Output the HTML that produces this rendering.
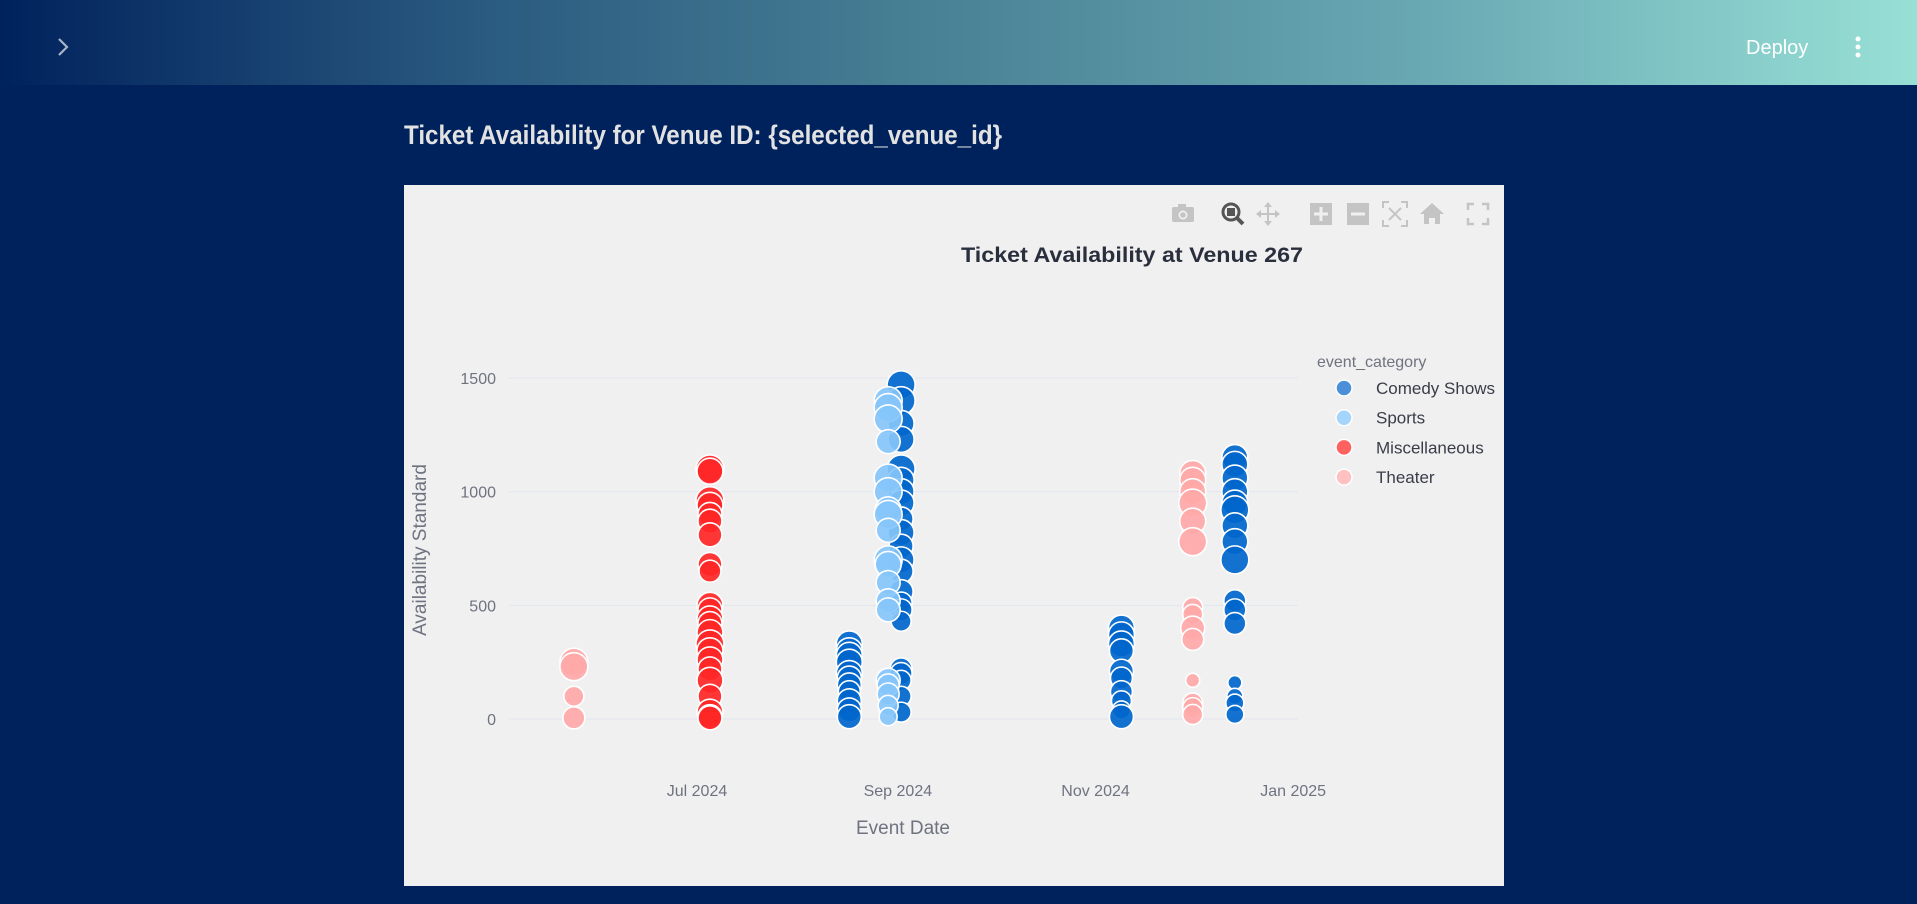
<!DOCTYPE html>
<html><head><meta charset="utf-8">
<style>
html,body{margin:0;padding:0;width:1917px;height:904px;overflow:hidden;background:#00225c;font-family:"Liberation Sans",sans-serif;}
#hdr{position:absolute;left:0;top:0;width:1917px;height:85px;background:linear-gradient(90deg,#00225c 0%,#2a5a80 25%,#4a8396 50%,#6aaab4 75%,#98e0d6 100%);}
#panel{position:absolute;left:404px;top:185px;width:1100px;height:701px;background:#f0f0f1;}
</style></head><body>
<div id="hdr">
  <svg width="1917" height="85" style="position:absolute;left:0;top:0">
    <polyline points="59,39 67,47 59,55" fill="none" stroke="#a8b4c8" stroke-width="2.2"/>
    <text x="1746" y="54" fill="#ffffff" font-size="20" font-family="Liberation Sans, sans-serif">Deploy</text>
    <g fill="#ffffff"><circle cx="1858" cy="39" r="2.5"/><circle cx="1858" cy="47" r="2.5"/><circle cx="1858" cy="55" r="2.5"/></g>
  </svg>
</div>
<svg width="1917" height="180" style="position:absolute;left:0;top:0">
  <text x="404" y="144" fill="#e2e2e2" font-size="27" font-weight="bold" font-family="Liberation Sans Narrow, Liberation Sans, sans-serif" textLength="598" lengthAdjust="spacingAndGlyphs">Ticket Availability for Venue ID: {selected_venue_id}</text>
</svg>
<div id="panel"></div>
<svg id="chart" width="1917" height="904" style="position:absolute;left:0;top:0"></svg>
<script>
const categories=["Comedy Shows","Sports","Miscellaneous","Theater"];
const colors={"Comedy Shows":"#0066cc","Sports":"#85c5fa","Miscellaneous":"#ff2626","Theater":"#ffa8a8"};
const legendColors={"Comedy Shows":"#4a90d9","Sports":"#a6d5fb","Miscellaneous":"#ff6060","Theater":"#ffc0c0"};
const yTicks=[0,500,1000,1500];
const xTickLabels=["Jul 2024","Sep 2024","Nov 2024","Jan 2025"];
const xTickDates=["2024-07-01","2024-09-01","2024-11-01","2025-01-01"];
const theater1Values=[250,230,100,5];
const theater1Sizes=[14,14,10,11];
const miscValues=[1100,1090,960,940,900,870,810,680,650,500,480,440,420,380,330,300,260,220,170,100,30,10,5];
const miscSizes=[14,13,14,13,12,12,12,12,11,13,12,13,12,13,14,13,13,12,13,12,13,12,12];
const comedy1Values=[330,300,280,250,200,180,150,120,80,40,10];
const comedy1Sizes=[13,13,13,13,13,12,12,11,12,12,12];
const sportsValues=[1400,1370,1320,1220,1060,1000,920,900,830,700,680,600,520,480,170,150,110,60,10];
const sportsSizes=[14,14,14,12,14,14,13,14,12,14,13,12,12,12,12,11,11,10,9];
const comedy2Values=[1470,1400,1300,1230,1100,1050,1000,950,880,820,760,700,650,560,510,480,430,220,200,170,100,30];
const comedy2Sizes=[14,14,13,13,14,13,13,13,12,13,12,13,12,12,11,11,10,11,11,10,10,10];
const comedy3Values=[400,370,330,300,210,180,120,80,40,10];
const comedy3Sizes=[13,13,13,12,12,11,11,10,9,12];
const theater2Values=[1080,1050,1000,950,870,780,490,460,400,350,170,70,50,20];
const theater2Sizes=[13,13,13,14,13,14,10,10,12,11,7,10,10,10];
const comedy4Values=[1150,1120,1060,1000,950,920,850,780,700,520,480,420,160,100,70,20];
const comedy4Sizes=[13,13,13,13,13,14,13,13,14,11,11,11,7,8,9,9];
const clusters=[
 ["Comedy Shows","2024-08-17",comedy1Values,comedy1Sizes],
 ["Comedy Shows","2024-09-02",comedy2Values,comedy2Sizes],
 ["Comedy Shows","2024-11-09",comedy3Values,comedy3Sizes],
 ["Comedy Shows","2024-12-14",comedy4Values,comedy4Sizes],
 ["Sports","2024-08-29",sportsValues,sportsSizes],
 ["Miscellaneous","2024-07-05",miscValues,miscSizes],
 ["Theater","2024-05-24",theater1Values,theater1Sizes],
 ["Theater","2024-12-01",theater2Values,theater2Sizes]
];
const NS="http://www.w3.org/2000/svg";
const svg=document.getElementById('chart');
const x0=Date.parse("2024-07-01"),px0=697,pxPerDay=3.24;
function xs(d){return px0+(Date.parse(d)-x0)/86400000*pxPerDay;}
function ys(v){return 719-v*(341/1500);}
function mk(tag,attrs,parent){const e=document.createElementNS(NS,tag);for(const k in attrs)e.setAttribute(k,attrs[k]);(parent||svg).appendChild(e);return e;}
function txt(s,attrs,parent){const e=mk('text',attrs,parent);e.textContent=s;return e;}
yTicks.forEach(v=>{
 const l=mk('line',{x1:509,x2:1298,y1:ys(v),y2:ys(v),stroke:'#e2e6ee','stroke-width':1});
 
 
 const t=txt(String(v),{x:496,y:ys(v)+6,'text-anchor':'end','font-size':16,fill:'#6f7380'});
 
 
});
xTickLabels.forEach((s,i)=>{
 const t=txt(s,{x:xs(xTickDates[i]),y:796,'text-anchor':'middle','font-size':16,fill:'#6f7380'});
 
 
});
const pg=mk('g',{});


clusters.forEach(c=>{
 const [cat,d,vals,sz]=c;
 vals.forEach((v,i)=>{
  const p=mk('circle',{cx:xs(d),cy:ys(v),r:sz[i],fill:colors[cat],'fill-opacity':0.92,stroke:'#ffffff','stroke-width':1.6},pg);
  
  
 });
});
let t=txt('Ticket Availability at Venue 267',{x:1132,y:262,'text-anchor':'middle','font-size':21,'font-weight':'bold',fill:'#2a2f3d',textLength:342,lengthAdjust:'spacingAndGlyphs'});

t=txt('Availability Standard',{x:0,y:0,transform:'translate(426,550) rotate(-90)','text-anchor':'middle','font-size':19,fill:'#6f7380'});

t=txt('Event Date',{x:903,y:834,'text-anchor':'middle','font-size':19,fill:'#6f7380'});

t=txt('event_category',{x:1317,y:367,'font-size':16,fill:'#6f7380'});

categories.forEach((c,i)=>{
 const g=mk('g',{});
 
 
 const y=388+i*29.7;
 mk('circle',{cx:1344,cy:y,r:8,fill:legendColors[c],stroke:'#ffffff','stroke-width':1.5},g);
 txt(c,{x:1376,y:y+6,'font-size':17,fill:'#3a3d48'},g);
});
const mb=mk('g',{fill:'#c4c4c4'});


function icon(name,x,draw){const g=mk('g',{transform:'translate('+x+',214)'},mb);draw(g);}
icon('camera-button',1183,g=>{mk('rect',{x:-11,y:-7,width:22,height:15,rx:2},g);mk('rect',{x:-5,y:-10,width:8,height:4},g);mk('circle',{cx:0,cy:1,r:4.5,fill:'#f0f0f1'},g);mk('circle',{cx:0,cy:1,r:2.8},g);});
icon('zoom-button',1233,g=>{mk('circle',{cx:-2,cy:-2,r:8,fill:'none',stroke:'#555',"stroke-width":3},g);mk('rect',{x:-6,y:-6,width:8,height:8,fill:'#555'},g);mk('line',{x1:4,y1:4,x2:10,y2:10,stroke:'#555','stroke-width':4},g);});
icon('pan-button',1268,g=>{mk('path',{d:'M0,-12 L4,-7 L1,-7 L1,-1 L7,-1 L7,-4 L12,0 L7,4 L7,1 L1,1 L1,7 L4,7 L0,12 L-4,7 L-1,7 L-1,1 L-7,1 L-7,4 L-12,0 L-7,-4 L-7,-1 L-1,-1 L-1,-7 L-4,-7Z'},g);});
icon('zoom-in-button',1321,g=>{mk('rect',{x:-11,y:-11,width:22,height:22},g);mk('rect',{x:-7,y:-1.5,width:14,height:3,fill:'#f0f0f1'},g);mk('rect',{x:-1.5,y:-7,width:3,height:14,fill:'#f0f0f1'},g);});
icon('zoom-out-button',1358,g=>{mk('rect',{x:-11,y:-11,width:22,height:22},g);mk('rect',{x:-7,y:-1.5,width:14,height:3,fill:'#f0f0f1'},g);});
icon('autoscale-button',1395,g=>{mk('path',{d:'M-12,-6 V-12 H-6 M6,-12 H12 V-6 M12,6 V12 H6 M-6,12 H-12 V6 M-6,-6 L6,6 M6,-6 L-6,6',fill:'none',stroke:'#c4c4c4','stroke-width':2},g);});
icon('reset-axes-button',1432,g=>{mk('path',{d:'M0,-11 L12,0 L8,0 L8,10 L3,10 L3,4 L-3,4 L-3,10 L-8,10 L-8,0 L-12,0Z'},g);});
icon('fullscreen-button',1478,g=>{mk('path',{d:'M-10,-4 V-10 H-4 M4,-10 H10 V-4 M10,4 V10 H4 M-4,10 H-10 V4',fill:'none',stroke:'#c4c4c4','stroke-width':2.5},g);});
</script>
</body></html>
